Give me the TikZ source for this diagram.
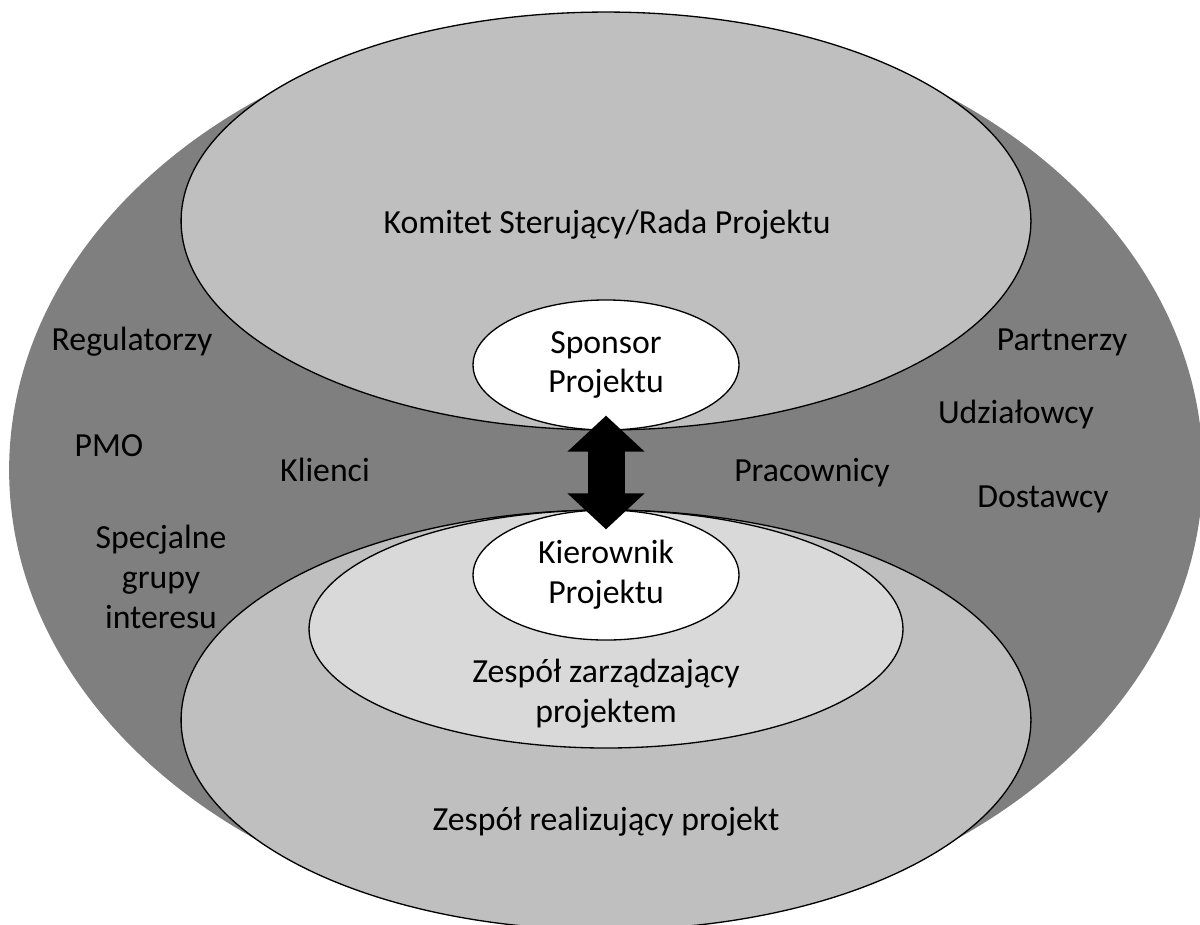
\documentclass[tikz,border=0pt]{standalone}
\usepackage{fontspec}
\setmainfont{Carlito}
\usepackage{tikz}
\usetikzlibrary{shapes.geometric, arrows.meta, positioning}
\definecolor{ringdark}{HTML}{7F7F7F}
\definecolor{ringlight}{HTML}{BFBFBF}
\definecolor{ringpale}{HTML}{D9D9D9}
\tikzstyle{txt} = [font=\fontsize{19.2}{22.7}\selectfont, align=center, inner sep=0pt]
\tikzstyle{oval} = [ellipse, draw=black, line width=0.75pt, inner sep=0pt, txt]
\tikzstyle{arrow} = [line width=0.74cm, {Triangle[width=1.5cm,length=0.72cm]}-{Triangle[width=1.5cm,length=0.72cm]}]
\begin{document}
\begin{tikzpicture}[x=0.02cm, y=-0.02cm]
\useasboundingbox (0,0) rectangle (1200,924);

\node (stake) [ellipse, fill=ringdark, minimum width=23.88cm, minimum height=18.24cm] at (606,470) {};
\node (committee) [oval, fill=ringlight, minimum width=17cm, minimum height=8.36cm] at (606,221) {};
\node (committeelbl) [txt, anchor=base] at (607,233) {Komitet Sterujący/Rada Projektu};
\node (sponsor) [oval, fill=white, minimum width=5.32cm, minimum height=2.6cm, anchor=south] at (committee.south) {Sponsor\\Projektu};
\node (delivery) [oval, fill=ringlight, minimum width=17cm, minimum height=8.4cm] at (606,720) {};
\node (mgmt) [oval, fill=ringpale, minimum width=11.88cm, minimum height=4.76cm, anchor=north] at (delivery.north) {};
\node (manager) [oval, fill=white, minimum width=5.32cm, minimum height=2.6cm, anchor=north] at (delivery.north) {Kierownik\\Projektu};

\node (mgmtlbl) [txt] at (606,694) {Zespół zarządzający\\projektem};
\node (deliverylbl) [txt, anchor=base] at (606,830) {Zespół realizujący projekt};

% stakeholders, left side
\node (regul) [txt, anchor=base] at (132,350) {Regulatorzy};
\node (pmo) [txt, anchor=base] at (109,456) {PMO};
\node (clients) [txt, anchor=base] at (325,481) {Klienci};
\node (special) [txt] at (161,577) {Specjalne\\grupy\\interesu};
% stakeholders, right side
\node (partners) [txt, anchor=base] at (1062,350) {Partnerzy};
\node (shareh) [txt, anchor=base] at (1016,423) {Udziałowcy};
\node (staff) [txt, anchor=base] at (812,481) {Pracownicy};
\node (suppliers) [txt, anchor=base] at (1043,507) {Dostawcy};

\draw [arrow, shorten <=-0.3cm, shorten >=-0.4cm] (sponsor.south) -- (manager.north);

\end{tikzpicture}
\end{document}
